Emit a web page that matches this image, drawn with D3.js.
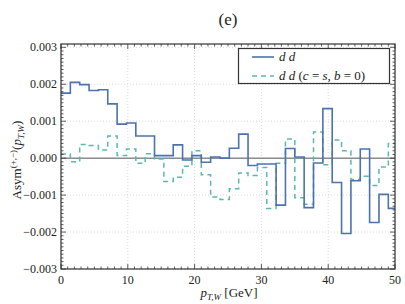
<!DOCTYPE html>
<html><head><meta charset="utf-8">
<script src="https://cdn.jsdelivr.net/npm/d3@7"></script>
<style>
html,body{margin:0;padding:0;background:#fff;}
text{font-family:"Liberation Serif","DejaVu Serif",serif;fill:#222;}
</style></head>
<body>
<svg id="c" width="405" height="304"></svg>
<script>
// bin width in GeV, bins start at 0
const binWidth = 1.4;
const xTicks = [0, 10, 20, 30, 40, 50];
const yTicks = [-0.003, -0.002, -0.001, 0.000, 0.001, 0.002, 0.003];
// series "d d" (values x 1e-3)
const seriesDD = [1.76, 2.05, 1.99, 1.83, 1.85, 1.47, 0.92, 0.95, 0.60, 0.60,
  0.07, 0.07, 0.36, -0.05, 0.07, -0.11, 0.03, 0.0, 0.27, 0.65,
  -0.20, -0.16, -0.16, -1.27, 0.26, 0.03, -1.34, -0.13, 1.34, -0.66,
  -2.04, -0.61, 0.25, -1.74, -0.98, -1.36];
// series "d d (c = s, b = 0)" (values x 1e-3)
const seriesDDcs = [0.115, -0.10, 0.37, 0.34, 0.22, 0.60, 0.07, 0.25, -0.14, 0.12,
  -0.02, -0.63, -0.52, -0.22, 0.20, -0.45, -1.05, -1.12, -0.83, -0.40,
  -0.47, -0.25, -1.36, -0.14, 0.52, -1.07, -1.25, 0.71, -0.18, 0.49,
  0.20, -0.58, -0.49, -0.74, -0.24, 0.40];

const svg = d3.select("#c");
const L = 61, R = 395, T = 44, B = 269;
const x = d3.scaleLinear().domain([0, 50]).range([L, R]);
const y = d3.scaleLinear().domain([-0.003, 0.00309]).range([B, T]);

svg.append("defs").append("clipPath").attr("id","clip")
  .append("rect").attr("x",L).attr("y",T).attr("width",R-L).attr("height",B-T);

// grid
const grid = svg.append("g");
xTicks.forEach(t => grid.append("line").attr("x1",x(t)).attr("x2",x(t)).attr("y1",T).attr("y2",B)
  .attr("stroke","#d0d0d0").attr("stroke-width",0.8).attr("stroke-dasharray","1,2"));
yTicks.forEach(t => grid.append("line").attr("y1",y(t)).attr("y2",y(t)).attr("x1",L).attr("x2",R)
  .attr("stroke","#d0d0d0").attr("stroke-width",0.8).attr("stroke-dasharray","1,2"));

// zero line
svg.append("line").attr("x1",L).attr("x2",R).attr("y1",y(0)).attr("y2",y(0))
  .attr("stroke","#8c8c8c").attr("stroke-width",1.5);

function stepPts(vals){
  const pts = vals.map((v,i)=>[i*binWidth, v*1e-3]);
  pts.push([vals.length*binWidth, vals[vals.length-1]*1e-3]);
  return pts;
}
const line = d3.line().x(d=>x(d[0])).y(d=>y(d[1])).curve(d3.curveStepAfter);
const plot = svg.append("g").attr("clip-path","url(#clip)");
plot.append("path").attr("d", line(stepPts(seriesDDcs))).attr("fill","none")
  .attr("stroke","#5bb8ae").attr("stroke-width",1.5).attr("stroke-dasharray","5,4");
plot.append("path").attr("d", line(stepPts(seriesDD))).attr("fill","none")
  .attr("stroke","#4c72b0").attr("stroke-width",1.6);

// axes with inward ticks on all sides
const ax = svg.append("g");
const xMinor = d3.range(0, 51, 1);
const yMinor = d3.range(-30, 31, 1).map(k => k*0.0001);
xMinor.forEach(t => {
  const maj = t % 10 === 0;
  const len = maj ? 5 : 2.5;
  ax.append("line").attr("x1",x(t)).attr("x2",x(t)).attr("y1",B).attr("y2",B-len).attr("stroke","#333").attr("stroke-width",0.8);
  ax.append("line").attr("x1",x(t)).attr("x2",x(t)).attr("y1",T).attr("y2",T+len).attr("stroke","#333").attr("stroke-width",0.8);
});
yMinor.forEach((t,i) => {
  const maj = i % 10 === 0;
  const len = maj ? 5 : 2.5;
  ax.append("line").attr("y1",y(t)).attr("y2",y(t)).attr("x1",L).attr("x2",L+len).attr("stroke","#333").attr("stroke-width",0.8);
  ax.append("line").attr("y1",y(t)).attr("y2",y(t)).attr("x1",R).attr("x2",R-len).attr("stroke","#333").attr("stroke-width",0.8);
});
ax.append("rect").attr("x",L).attr("y",T).attr("width",R-L).attr("height",B-T)
  .attr("fill","none").attr("stroke","#333").attr("stroke-width",1.2);

// tick labels
const fmt = d3.format(".3f");
xTicks.forEach(t => svg.append("text").attr("x",x(t)).attr("y",B+15).attr("text-anchor","middle")
  .attr("font-size",12).text(t));
yTicks.forEach(t => svg.append("text").attr("x",L-4).attr("y",y(t)+4).attr("text-anchor","end")
  .attr("font-size",12).text(fmt(t).replace("-","\u2212")));

// title
svg.append("text").attr("x",228).attr("y",25).attr("text-anchor","middle").attr("font-size",17).text("(e)");

// x label
const xl = svg.append("text").attr("x",229).attr("y",297).attr("text-anchor","middle").attr("font-size",13);
xl.append("tspan").attr("font-style","italic").text("p");
xl.append("tspan").attr("font-style","italic").attr("font-size",9).attr("dy",3).text("T,W");
xl.append("tspan").attr("dy",-3).text(" [GeV]");

// y label
const yl = svg.append("text").attr("transform","translate(21,160) rotate(-90)").attr("text-anchor","middle").attr("font-size",13);
yl.append("tspan").text("Asym");
yl.append("tspan").attr("font-size",9).attr("dy",-5).text("(+,\u2212)");
yl.append("tspan").attr("dy",5).text("(");
yl.append("tspan").attr("font-style","italic").text("p");
yl.append("tspan").attr("font-style","italic").attr("font-size",9).attr("dy",3).text("T,W");
yl.append("tspan").attr("dy",-3).text(")");

// legend
const lg = svg.append("g");
lg.append("rect").attr("x",238.5).attr("y",48.5).attr("width",151).attr("height",35)
  .attr("fill","#fff").attr("stroke","#333").attr("stroke-width",1.2);
lg.append("line").attr("x1",252).attr("x2",274).attr("y1",57).attr("y2",57).attr("stroke","#4c72b0").attr("stroke-width",1.6);
lg.append("line").attr("x1",252).attr("x2",274).attr("y1",76).attr("y2",76).attr("stroke","#5bb8ae").attr("stroke-width",1.5).attr("stroke-dasharray","5,4");
const t1 = lg.append("text").attr("x",279).attr("y",61).attr("font-size",13).attr("font-style","italic").text("d d");
const t2 = lg.append("text").attr("x",279).attr("y",80).attr("font-size",13);
t2.append("tspan").attr("font-style","italic").text("d d");
t2.append("tspan").text(" (");
t2.append("tspan").attr("font-style","italic").text("c");
t2.append("tspan").text(" = ");
t2.append("tspan").attr("font-style","italic").text("s");
t2.append("tspan").text(",  ");
t2.append("tspan").attr("font-style","italic").text("b");
t2.append("tspan").text(" = 0)");
</script>
</body></html>
